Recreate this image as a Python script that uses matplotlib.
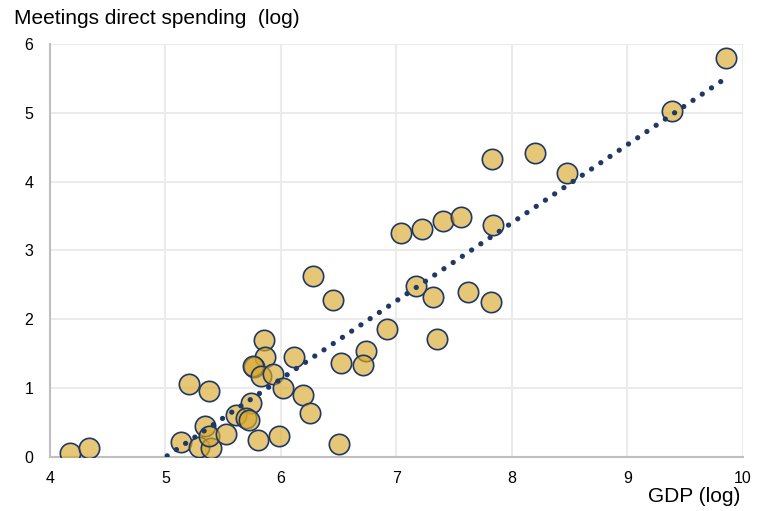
import numpy as np
import matplotlib
matplotlib.use("Agg")
import matplotlib.pyplot as plt

plt.rcParams['font.family'] = ['Liberation Sans', 'DejaVu Sans']

# GDP (log) and meetings direct spending (log)
gdp = [4.17, 4.34, 5.20, 5.38, 5.13, 5.29, 5.39, 5.34, 5.38, 5.52,
       5.61, 5.74, 5.70, 5.72, 5.80, 5.98, 5.85, 5.86, 5.77, 5.76,
       5.83, 5.93, 6.02, 6.11, 6.19, 6.25, 6.50, 6.52, 6.28, 6.45,
       6.92, 6.74, 6.71, 7.17, 7.32, 7.62, 7.35, 7.04, 7.22, 7.40,
       7.56, 7.84, 7.83, 8.20, 8.48, 7.82, 9.39, 9.85]
spend = [0.06, 0.13, 1.06, 0.96, 0.22, 0.14, 0.13, 0.45, 0.30, 0.34,
         0.61, 0.78, 0.56, 0.54, 0.24, 0.31, 1.70, 1.45, 1.31, 1.32,
         1.18, 1.21, 1.00, 1.45, 0.90, 0.64, 0.19, 1.36, 2.63, 2.28,
         1.86, 1.54, 1.33, 2.49, 2.32, 2.39, 1.71, 3.25, 3.31, 3.43,
         3.49, 3.37, 4.33, 4.41, 4.12, 2.25, 5.03, 5.80]

# trend line (as drawn): y = a + b*x
trend_a, trend_b = -5.67, 1.134

navy = '#1F3864'
gold = (0.851, 0.663, 0.180, 0.65)  # semi-transparent fill, solid edge

fig = plt.figure(figsize=(7.58, 5.11), dpi=100)
ax = fig.add_axes([0.066, 0.1057, 0.914, 0.8083])

ax.scatter(gdp, spend, s=215, facecolors=[gold],
           edgecolors=navy, linewidths=1.2, zorder=3)

xs = np.linspace(min(gdp), max(gdp), 200)
ax.plot(xs, trend_a + trend_b * xs, color=navy, lw=3.8,
        linestyle=(0, (0.01, 2.1)), dash_capstyle='round', zorder=4)

ax.set_xlim(4, 10)
ax.set_ylim(0, 6)
ax.set_xticks(range(4, 11))
ax.set_yticks(range(0, 7))
ax.grid(True, color='#EBEBEB', lw=1.5, zorder=0)
ax.set_axisbelow(True)
for s in ['top', 'right']:
    ax.spines[s].set_visible(False)
for s in ['left', 'bottom']:
    ax.spines[s].set_color('#BFBFBF')
    ax.spines[s].set_linewidth(1.5)
ax.tick_params(length=0, labelsize=11.5)
ax.tick_params(axis='y', pad=12)
ax.tick_params(axis='x', pad=10)

fig.text(0.018, 0.963, 'Meetings direct spending  (log)', fontsize=15,
         ha='left', va='center')
fig.text(0.977, 0.028, 'GDP (log)', fontsize=15, ha='right', va='center')

fig.savefig('out.png', dpi=100)
